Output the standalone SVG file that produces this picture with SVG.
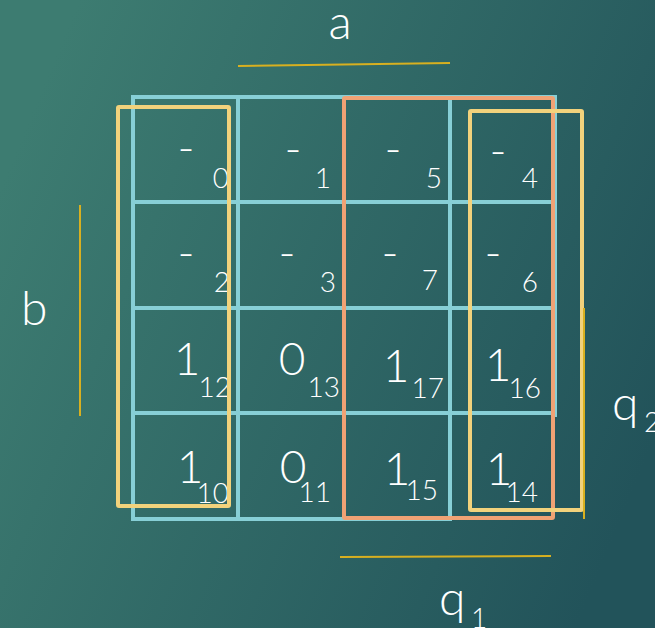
<svg xmlns="http://www.w3.org/2000/svg" width="655" height="628" viewBox="0 0 655 628">
<defs>
<linearGradient id="bg" x1="0" y1="0.3" x2="1" y2="0.7">
<stop offset="0" stop-color="#3D7C71"/>
<stop offset="1" stop-color="#22535A"/>
</linearGradient>
<style>
.t{font-family:Lato,"Open Sans","DejaVu Sans",sans-serif;font-weight:300;fill:#FFFFFF}
.v{font-size:46px;text-anchor:middle}
.i{font-size:28px;text-anchor:end}
.lab{font-size:48px}
.sub{font-size:28px}
.grid{stroke:#87CFD6;stroke-width:4;fill:none;stroke-linecap:square}
.gold{stroke:#D8B020;stroke-width:2;fill:none}
.yl{stroke:#F2D27C;stroke-width:4;fill:none}
.or{stroke:#F0A274;stroke-width:4;fill:none}
</style>
</defs>
<rect width="655" height="628" fill="url(#bg)"/>
<g id="grid" class="grid">
<path d="M133 97V519M238 97V519M344 97V519M450 97V519M555 97V415"/>
<path d="M133 97H555M133 202H555M133 308H555M133 413H555M133 519H450"/>
</g>
<g id="labels">
<text class="t lab" x="340" y="39" text-anchor="middle">a</text>
<text class="t lab" x="21" y="325">b</text>
<text class="t lab" x="612" y="420">q<tspan class="sub" x="644" y="432">2</tspan></text>
<text class="t lab" x="439" y="615">q<tspan class="sub" x="471" y="628">1</tspan></text>
</g>
<g id="cell0"><text class="t v" x="186" y="164">-</text><text class="t i" x="229" y="188">0</text></g>
<g id="cell1"><text class="t v" x="293" y="165">-</text><text class="t i" x="331" y="188">1</text></g>
<g id="cell5"><text class="t v" x="393" y="165">-</text><text class="t i" x="442" y="188">5</text></g>
<g id="cell4"><text class="t v" x="498" y="167">-</text><text class="t i" x="538" y="188">4</text></g>
<g id="cell2"><text class="t v" x="186" y="269">-</text><text class="t i" x="230" y="292">2</text></g>
<g id="cell3"><text class="t v" x="287" y="269">-</text><text class="t i" x="336" y="292">3</text></g>
<g id="cell7"><text class="t v" x="390" y="269">-</text><text class="t i" x="438" y="290">7</text></g>
<g id="cell6"><text class="t v" x="493" y="269">-</text><text class="t i" x="538" y="292">6</text></g>
<g id="cell12"><text class="t v" x="187" y="375">1</text><text class="t i" x="231" y="397">12</text></g>
<g id="cell13"><text class="t v" x="292" y="375">0</text><text class="t i" x="340" y="397">13</text></g>
<g id="cell17"><text class="t v" x="396" y="382">1</text><text class="t i" x="444" y="398">17</text></g>
<g id="cell16"><text class="t v" x="498" y="381">1</text><text class="t i" x="541" y="398">16</text></g>
<g id="cell10"><text class="t v" x="190" y="483">1</text><text class="t i" x="229" y="503">10</text></g>
<g id="cell11"><text class="t v" x="293" y="483">0</text><text class="t i" x="331" y="502">11</text></g>
<g id="cell15"><text class="t v" x="397" y="485">1</text><text class="t i" x="438" y="500">15</text></g>
<g id="cell14"><text class="t v" x="499" y="485">1</text><text class="t i" x="538" y="502">14</text></g>
<g id="loops">
<rect id="loop-orange" class="or" x="344" y="98" width="209" height="420" rx="1"/>
<rect id="loop-yellow-left" class="yl" x="118" y="107" width="111" height="399" rx="1"/>
<rect id="loop-yellow-right" class="yl" x="470" y="111" width="112" height="399" rx="1"/>
</g>
<g id="connectors" class="gold">
<path d="M238 66L450 63"/>
<path d="M80 205V416"/>
<path d="M584 308V519"/>
<path d="M340 557L551 556"/>
</g>
</svg>
